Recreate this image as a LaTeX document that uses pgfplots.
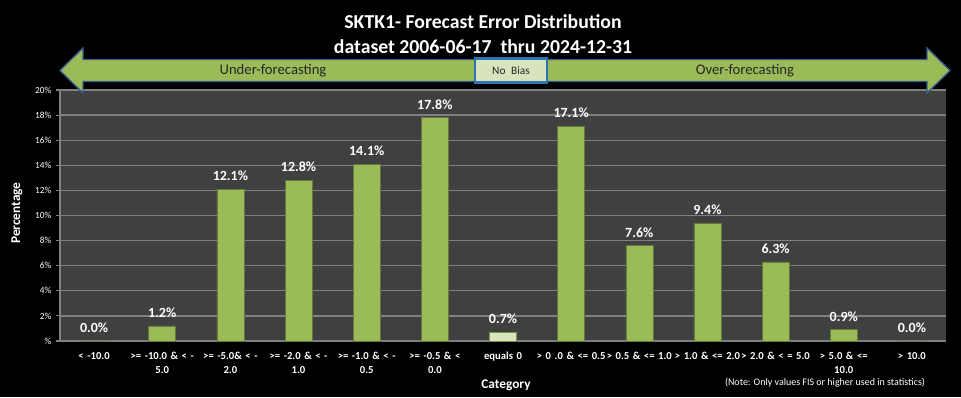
\documentclass[border=0pt]{standalone}
\usepackage{pgfplots}
\pgfplotsset{compat=1.18}
\usepackage{fontspec}
\setmainfont{Carlito}
\definecolor{plotbg}{HTML}{404040}
\definecolor{gridc}{HTML}{7F7F7F}
\definecolor{barg}{HTML}{9BBB59}
\definecolor{barl}{HTML}{D7E4BD}
\definecolor{arrowb}{HTML}{385D8A}
\definecolor{boxb}{HTML}{2E75B6}
\begin{document}
\begin{tikzpicture}
\begin{scope}[x=0.75pt,y=-0.75pt,yshift=297.75pt]
\fill[black] (0,0) rectangle (961,397);
\end{scope}
\begin{axis}[
  at={(45pt,42pt)}, anchor=south west,
  scale only axis, width=664.5pt, height=188.25pt,
  ymin=0, ymax=20, xmin=-0.5, xmax=12.5,
  axis background/.style={fill=plotbg},
  axis x line*=bottom, axis y line*=left,
  axis line style={gridc, line width=0.8pt},
  ytick={0,2,...,20},
  yticklabels={\%,2\%,4\%,6\%,8\%,10\%,12\%,14\%,16\%,18\%,20\%},
  ymajorgrids, grid style={gridc, line width=1pt},
  tick align=outside, major tick length=3pt,
  tick style={gridc, line width=0.8pt},
  xtick={0,...,12},
  xticklabels={{< -10.0},{>= -10.0 \& < -\\5.0},{>= -5.0\& < -\\2.0},{>= -2.0 \& < -\\1.0},{>= -1.0 \& < -\\0.5},{>= -0.5 \& <\\0.0},{equals 0},{> 0 .0 \& <= 0.5},{> 0.5 \& <= 1.0},{> 1.0 \& <= 2.0},{> 2.0 \& < = 5.0},{> 5.0 \& <=\\10.0},{> 10.0}},
  major x tick style={draw=none},
  extra x ticks={-0.5,0.5,...,12.5},
  extra x tick labels={},
  extra x tick style={grid=none, major tick length=4pt, tick style={draw=gridc}},
  xticklabel style={text width=70pt, align=center, font=\fontsize{8}{10.5}\selectfont\bfseries, text=white, yshift=-2pt},
  yticklabel style={font=\fontsize{7}{8}\selectfont, text=white},
  /pgf/number format/assume math mode=true,
  ybar, bar width=20.25pt,
  nodes near coords={\pgfmathprintnumber[fixed,fixed zerofill,precision=1]{\pgfplotspointmeta}\%},
  nodes near coords style={font=\fontsize{10.5}{12}\selectfont\bfseries, text=white, anchor=center, yshift=10pt},
]
\addplot[fill=barg, draw=barg!65!black, line width=0.4pt, bar shift=0pt] coordinates {
 (0,0.0) (1,1.2) (2,12.1) (3,12.8) (4,14.1) (5,17.8) (7,17.1) (8,7.6) (9,9.4) (10,6.3) (11,0.9) (12,0.0)};
\addplot[fill=barl, draw=barg!80!black, line width=0.4pt, bar shift=0pt] coordinates {(6,0.7)};
\end{axis}
\begin{scope}[x=0.75pt,y=-0.75pt,yshift=297.75pt]
% arrow band
\filldraw[fill=barg, draw=arrowb, line width=1pt] (60,70.5) -- (83,48) -- (83,59.5) -- (927,59.5) -- (927,48) -- (950,70.5) -- (927,93) -- (927,81.5) -- (83,81.5) -- (83,93) -- cycle;
\filldraw[fill=barl, draw=boxb, line width=1.6pt] (475,58.5) rectangle (547,82.5);
\node[font=\fontsize{11}{12}\selectfont, text=black!85] at (273,71) {Under-forecasting};
\node[font=\fontsize{11}{12}\selectfont, text=black!85] at (745,71) {Over-forecasting};
\node[font=\fontsize{8.5}{10}\selectfont, text=black!85] at (511,70.5) {No\hspace{0.5em}Bias};
% titles
\node[font=\fontsize{14.8}{17}\selectfont\bfseries, text=white] at (483,22) {SKTK1- Forecast Error Distribution};
\node[font=\fontsize{14.8}{17}\selectfont\bfseries, text=white] at (483,46.5) {dataset 2006-06-17\ \ thru 2024-12-31};
% axis titles
\node[font=\fontsize{10}{12}\selectfont\bfseries, text=white, rotate=90] at (17,213) {Percentage};
\node[font=\fontsize{10}{12}\selectfont\bfseries, text=white] at (506,385) {Category};
\node[font=\fontsize{7.5}{9}\selectfont, text=white] at (825,383) {(Note: Only values FIS or higher used in statistics)};
\end{scope}
\pgfresetboundingbox
\path[use as bounding box] (0,0) rectangle (720.75pt,297.75pt);
\end{tikzpicture}
\end{document}
